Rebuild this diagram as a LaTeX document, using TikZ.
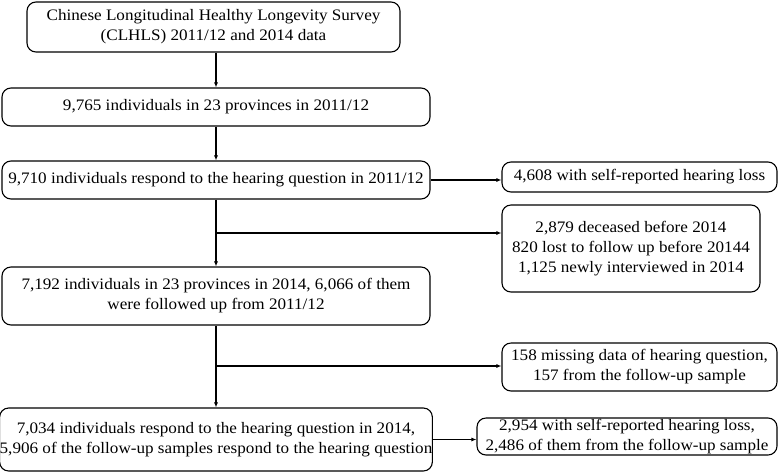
\documentclass[tikz,border=0pt]{standalone}
\usepackage{fontspec}
\setmainfont{Liberation Serif}[FakeStretch=1.07]
\usetikzlibrary{arrows.meta}
\begin{document}
\begin{tikzpicture}[x=1pt,y=-1pt,
  box/.style={draw,line width=1.1pt,rounded corners=9pt,align=center,inner sep=0pt,
    font=\fontsize{16}{20}\selectfont},
  arr/.style={line width=1.1pt,-{Latex[length=5pt,width=4pt]}},
  ln/.style={line width=1.1pt}]
\useasboundingbox (0,0) rectangle (778,472);
\node[box,minimum width=373pt,minimum height=50pt] (b1) at (213.5,27) {Chinese Longitudinal Healthy Longevity Survey\\(CLHLS) 2011/12 and 2014 data};
\node[box,minimum width=428pt,minimum height=38pt] (b2) at (216,107) {9,765 individuals in 23 provinces in 2011/12};
\node[box,minimum width=428pt,minimum height=38pt] (b3) at (216,180) {9,710 individuals respond to the hearing question in 2011/12};
\node[box,minimum width=428pt,minimum height=58pt] (b4) at (216,296) {7,192 individuals in 23 provinces in 2014, 6,066 of them\\were followed up from 2011/12};
\node[box,minimum width=428pt,minimum height=63pt] (b5) at (216,439.5) {7,034 individuals respond to the hearing question in 2014,\\5,906 of the follow-up samples respond to the hearing question};
\node[box,minimum width=275pt,minimum height=30pt] (ba) at (639.5,177) {4,608 with self-reported hearing loss};
\node[box,minimum width=258pt,minimum height=87pt] (bb) at (631,248.5) {2,879 deceased before 2014\\820 lost to follow up before 20144\\1,125 newly interviewed in 2014};
\node[box,minimum width=275pt,minimum height=48pt] (bc) at (639.5,367) {158 missing data of hearing question,\\157 from the follow-up sample};
\node[box,minimum width=300pt,minimum height=37pt] (bd) at (627,436.5) {2,954 with self-reported hearing loss,\\2,486 of them from the follow-up sample};
\coordinate (j1) at (216,233);
\coordinate (j2) at (216,366);
\draw[arr] (b1.south -| b2.north) -- (b2.north);
\draw[arr] (b2.south) -- (b3.north);
\draw[arr] (b3.south) -- (b4.north);
\draw[arr] (b4.south) -- (b5.north);
\draw[arr] (b3.east) -- (b3.east -| ba.west);
\draw[arr] (j1) -- (j1 -| bb.west);
\draw[arr] (j2) -- (j2 -| bc.west);
\draw[arr] (b5.east) -- (b5.east -| bd.west);
\end{tikzpicture}
\end{document}
